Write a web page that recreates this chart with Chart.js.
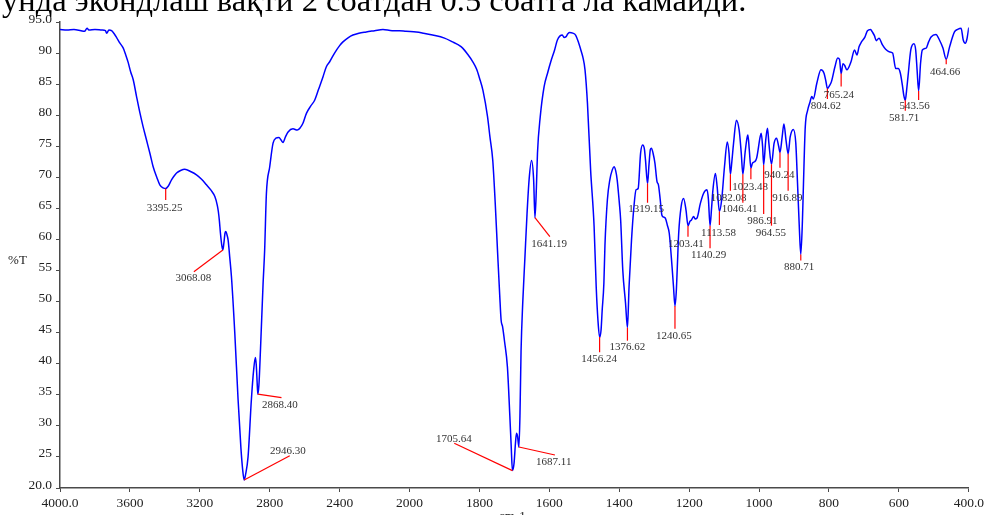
<!DOCTYPE html>
<html>
<head>
<meta charset="utf-8">
<script src="https://cdn.jsdelivr.net/npm/chart.js@4.4.1/dist/chart.umd.min.js"></script>
<style>
  html, body { margin: 0; padding: 0; background: #fff; overflow: hidden; }
</style>
</head>
<body>
<canvas id="ir-chart" width="987" height="515"></canvas>
<script>
// IR spectrum, %T against wavenumber

const headline = 'унда экондлаш вақти 2 соатдан 0.5 соатга ла камайди.';

// Spectrum, cm-1 and %T
const wavenumbers = [
  4000, 3960, 3920, 3880, 3860, 3845, 3835, 3800, 3760, 3740, 3733, 3720, 3705, 3690, 3676, 3657,
  3638, 3625, 3610, 3595, 3581, 3562, 3543, 3525, 3505, 3485, 3467, 3445, 3429, 3410, 3395.25, 3380,
  3362, 3345, 3333, 3310, 3286, 3250, 3219, 3190, 3162, 3135, 3114, 3100, 3094, 3088, 3082, 3074,
  3068.08, 3062, 3056, 3051, 3045, 3038, 3029, 3019, 3000, 2981, 2965, 2955, 2946.3, 2938, 2924, 2905,
  2892, 2882, 2877, 2872, 2868.4, 2862, 2853, 2838, 2829, 2819, 2800, 2781, 2765, 2747, 2735, 2724,
  2710, 2695, 2667, 2642, 2625, 2610, 2590, 2565, 2543, 2520, 2495, 2476, 2457, 2429, 2400, 2381,
  2350, 2324, 2290, 2248, 2200, 2152, 2100, 2057, 2020, 1981, 1960, 1934, 1900, 1877, 1860, 1848,
  1835, 1819, 1808, 1800, 1790, 1777, 1770, 1762, 1755, 1748, 1742, 1738, 1734, 1728, 1720, 1713,
  1709, 1705.64, 1701, 1697, 1694, 1691, 1687.11, 1684, 1681, 1676, 1670, 1664, 1658, 1651, 1645, 1641.19,
  1637, 1634, 1626, 1615, 1605, 1596, 1585, 1577, 1563, 1558, 1553, 1547, 1542, 1533, 1525, 1517,
  1510, 1504, 1498, 1491, 1482, 1472, 1466, 1461, 1456.24, 1452, 1449, 1444, 1441, 1434, 1427, 1420,
  1415, 1410, 1406, 1400, 1396, 1390, 1382, 1376.62, 1372, 1365, 1358, 1352, 1346, 1339, 1333, 1328,
  1325, 1319.15, 1315, 1311, 1308, 1303, 1298, 1292, 1288, 1283, 1278, 1273, 1268, 1262, 1257, 1249,
  1245, 1240.65, 1237, 1234, 1230, 1223, 1216, 1209, 1203.41, 1198, 1194, 1187, 1183, 1178, 1168, 1159,
  1149, 1145, 1140.29, 1136, 1132, 1125, 1120, 1113.58, 1107, 1099, 1091, 1086, 1082.08, 1078, 1073, 1065,
  1057, 1051, 1046.41, 1040, 1035, 1032, 1028, 1023.48, 1019, 1013, 1007, 997, 994, 990, 986.91, 981,
  976, 972, 964.55, 957, 950, 944, 940.24, 934, 929, 923, 916.89, 911, 902, 895, 890, 885,
  880.71, 876, 873, 868, 861, 855, 849, 845, 835, 823, 814, 809, 804.62, 798, 793, 783,
  775, 770, 765.24, 760, 755, 749, 737, 727, 720, 714, 707, 697, 690, 681, 676, 670,
  665, 657, 647, 638, 628, 618, 609, 602, 596, 590, 586, 581.71, 578, 574, 566, 557,
  552, 548, 543.56, 538, 533, 522, 515, 508, 494, 484, 474, 464.66, 455, 441, 432, 422,
  416, 410, 406, 400
];
const transmittance = [
  93.8, 93.7, 93.8, 93.6, 93.5, 94.0, 93.7, 93.8, 93.7, 93.6, 93.2, 93.7, 93.6, 93.1, 92.5, 91.6,
  90.8, 89.8, 88.5, 86.9, 85.7, 83.0, 80.4, 78.2, 76.0, 73.8, 71.7, 69.9, 68.8, 68.3, 68.2, 68.6,
  69.6, 70.3, 70.7, 71.1, 71.3, 70.9, 70.4, 69.7, 68.8, 67.9, 66.9, 65.5, 64.5, 63.0, 61.0, 59.0,
  58.3, 59.5, 61.0, 61.3, 60.8, 59.9, 57.2, 54.0, 45.0, 34.2, 26.5, 23.0, 21.3, 22.2, 25.0, 34.2,
  39.0, 41.0, 39.8, 37.0, 35.1, 36.5, 42.2, 52.9, 58.3, 67.4, 71.7, 75.5, 76.3, 76.4, 76.0, 75.6,
  76.5, 77.3, 77.8, 77.6, 78.0, 78.7, 80.3, 81.5, 82.4, 84.2, 86.2, 87.8, 88.6, 90.0, 91.2, 91.8,
  92.5, 92.9, 93.2, 93.4, 93.6, 93.8, 93.6, 93.6, 93.5, 93.4, 93.2, 92.9, 92.4, 91.8, 91.3, 90.8,
  89.9, 88.6, 87.4, 86.0, 84.0, 79.8, 76.5, 72.8, 66.0, 57.8, 51.0, 47.0, 46.0, 43.5, 39.5, 31.5,
  26.5, 22.8, 24.0, 27.2, 28.8, 28.3, 26.6, 32.0, 42.0, 50.0, 57.0, 64.0, 69.6, 72.7, 69.6, 63.5,
  68.5, 73.9, 79.8, 84.6, 86.8, 88.6, 90.5, 92.1, 92.9, 92.5, 92.6, 93.1, 93.3, 93.2, 92.9, 91.8,
  90.5, 89.3, 87.3, 81.9, 71.2, 62.1, 52.4, 47.0, 44.3, 45.5, 48.5, 53.0, 59.0, 66.4, 69.6, 71.2,
  71.7, 71.0, 69.6, 66.0, 63.1, 55.1, 49.7, 45.8, 52.4, 59.9, 65.3, 68.0, 68.2, 73.9, 75.2, 74.5,
  72.8, 69.0, 72.0, 74.5, 74.7, 73.8, 72.3, 69.3, 68.8, 66.5, 63.9, 63.6, 63.4, 62.2, 61.0, 55.6,
  52.5, 49.3, 51.5, 55.5, 61.0, 65.3, 66.6, 64.7, 62.2, 62.9, 63.1, 63.7, 63.3, 63.4, 65.8, 67.4,
  68.0, 66.5, 62.2, 65.0, 68.0, 70.6, 68.5, 64.5, 66.4, 71.7, 75.7, 73.9, 70.5, 72.5, 75.5, 79.2,
  77.6, 73.9, 70.5, 74.0, 76.2, 76.8, 74.4, 71.5, 72.3, 72.5, 73.1, 76.5, 77.1, 75.0, 72.0, 76.0,
  77.9, 75.5, 72.1, 75.5, 76.3, 75.0, 74.0, 76.5, 78.6, 76.0, 73.8, 76.5, 77.7, 75.5, 69.0, 62.1,
  57.6, 63.0, 69.0, 78.0, 80.8, 82.0, 83.0, 82.6, 85.1, 87.3, 86.7, 85.5, 84.3, 84.8, 85.4, 87.8,
  89.2, 89.0, 86.7, 88.3, 88.0, 87.3, 88.6, 90.5, 89.7, 91.0, 91.8, 92.6, 93.6, 93.8, 93.4, 92.8,
  92.0, 92.4, 91.3, 90.6, 90.2, 90.0, 87.5, 87.5, 86.8, 84.8, 83.2, 82.4, 84.0, 86.2, 90.5, 91.5,
  90.5, 87.3, 83.9, 88.4, 90.5, 90.8, 91.8, 92.6, 93.0, 92.1, 90.8, 89.0, 91.0, 93.4, 93.8, 94.0,
  92.1, 91.6, 92.1, 94.1
];

// Axis ticks
const xTickValues = [4000, 3600, 3200, 2800, 2400, 2000, 1800, 1600, 1400, 1200, 1000, 800, 600, 400];
const yMin = 20;
const yMax = 95;
const yStep = 5;

// Picked peaks: wavenumber and %T at the pick
const peakWavenumbers = [
  3395.25, 3068.08, 2868.40, 2946.30, 1641.19, 1705.64, 1687.11, 1456.24, 1376.62,
  1240.65, 1319.15, 1203.41, 1140.29, 1113.58, 1082.08, 1046.41, 1023.48, 986.91,
  964.55, 940.24, 916.89, 880.71, 804.62, 765.24, 581.71, 543.56, 464.66
];
const peakTransmittance = [
  68.2, 58.3, 35.1, 21.3, 63.5, 22.8, 26.6, 44.3, 45.8,
  49.3, 69.0, 62.2, 62.2, 64.5, 70.5, 70.5, 71.5, 72.0,
  72.1, 74.0, 73.8, 57.6, 84.3, 86.7, 82.4, 83.9, 89.0
];

// Layout of each pick: leader end (dx, dy) and label centre (lx, ly), px from the peak
const pickLayout = [
  [0, 11.5, -1, 19.5], [-29, 21.7, -29.6, 27.7], [23.7, 3.5, 22, 10.8], [45.6, -24.2, 43.6, -28.9],
  [14.9, 19, 14.2, 26.3], [-58.2, -27.3, -58.5, -31.6], [36, 8, 34.8, 14.7], [0, 15.3, -0.6, 22.3],
  [0, 13, 0, 19], [0, 22.8, -1, 29.8], [0, 19.2, -1.5, 25.5], [0, 11, -2, 18.2],
  [0, 22.5, -1.4, 29.2], [0, 13.5, -0.8, 21.2], [0, 16.5, -1.8, 23.5], [0, 28.5, -3.3, 34.8],
  [0, 11.3, -0.7, 19.3], [0, 49, -1.2, 55.8], [0, 61.4, -0.7, 68.7], [0, 15.2, -0.6, 22.8],
  [0, 37, -0.7, 44], [0, 6, -1.7, 12.4], [0, 10.5, -1.4, 17.5], [0, 13, -2.2, 21.4],
  [0, 10.4, -1.2, 18], [0, 9, -4, 15], [0, 5, -1, 13]
];

const axisColor = '#4a4a4a';
const serif = '"Liberation Serif", "Times New Roman", serif';

Chart.defaults.font.family = serif;
Chart.defaults.color = '#222';

// 4000-2000 cm-1 is drawn at half the scale of 2000-400 cm-1
function wavenumberToDecimal(wn) {
  if (wn >= 2000) return (4000 - wn) / 5200;
  return (2000 + 2 * (2000 - wn)) / 5200;
}

function decimalToWavenumber(d) {
  const u = d * 5200;
  if (u <= 2000) return 4000 - u;
  return 2000 - (u - 2000) / 2;
}

class WavenumberScale extends Chart.LinearScale {
  static id = 'wavenumber';

  getPixelForValue(value) {
    if (value === null || value === undefined) return NaN;
    return this.getPixelForDecimal(wavenumberToDecimal(value));
  }

  getValueForPixel(pixel) {
    return decimalToWavenumber(this.getDecimalForPixel(pixel));
  }
}
Chart.register(WavenumberScale);

// Red peak picks, their labels and the loose captions
const peakPicks = {
  id: 'peakPicks',
  afterDatasetsDraw(chart) {
    const { ctx, chartArea, scales: { x, y } } = chart;
    ctx.save();

    ctx.strokeStyle = '#ff0000';
    ctx.lineWidth = 1.2;
    ctx.fillStyle = '#333';
    ctx.font = '11px ' + serif;
    ctx.textAlign = 'center';
    ctx.textBaseline = 'middle';
    peakWavenumbers.forEach((wn, i) => {
      const px = x.getPixelForValue(wn);
      const py = y.getPixelForValue(peakTransmittance[i]);
      const [dx, dy, lx, ly] = pickLayout[i];
      ctx.beginPath();
      ctx.moveTo(px, py);
      ctx.lineTo(px + dx, py + dy);
      ctx.stroke();
      ctx.fillText(wn.toFixed(2), px + lx, py + ly);
    });

    // axis captions
    ctx.fillStyle = '#222';
    ctx.font = '13px ' + serif;
    ctx.fillText('%T', 17.5, chartArea.top + 239);
    ctx.textBaseline = 'top';
    ctx.fillText('cm-1', (chartArea.left + chartArea.right) / 2 - 2, chartArea.bottom + 22);

    // line of document text cut off above the figure
    ctx.fillStyle = '#000';
    ctx.font = '32.5px ' + serif;
    ctx.textAlign = 'left';
    ctx.textBaseline = 'alphabetic';
    ctx.fillText(headline, 2, 11);

    ctx.restore();
  }
};

const spectrumPoints = wavenumbers.map((wn, i) => ({ x: wn, y: transmittance[i] }));

new Chart(document.getElementById('ir-chart'), {
  type: 'line',
  data: {
    datasets: [{
      data: spectrumPoints,
      borderColor: '#0000ff',
      borderWidth: 1.5,
      pointRadius: 0,
      cubicInterpolationMode: 'monotone',
      fill: false
    }]
  },
  options: {
    responsive: false,
    animation: false,
    layout: { padding: { top: 22, right: 16, bottom: 0, left: 0 } },
    plugins: {
      legend: { display: false },
      tooltip: { enabled: false }
    },
    scales: {
      x: {
        type: 'wavenumber',
        min: 400,
        max: 4000,
        afterBuildTicks: scale => {
          scale.ticks = xTickValues.map(v => ({ value: v }));
        },
        afterFit: scale => {
          scale.height = 27;
        },
        grid: { drawOnChartArea: false, drawTicks: true, tickLength: 4, color: axisColor },
        border: { color: axisColor, width: 1.5 },
        ticks: {
          autoSkip: false,
          maxRotation: 0,
          padding: 3,
          font: { size: 13.5 },
          callback: v => (v === 4000 || v === 400) ? v.toFixed(1) : String(v)
        }
      },
      y: {
        min: yMin,
        max: yMax,
        afterFit: scale => {
          scale.width = 60;
        },
        grid: { drawOnChartArea: false, drawTicks: true, tickLength: 4, color: axisColor },
        border: { color: axisColor, width: 1.5 },
        ticks: {
          stepSize: yStep,
          padding: 4,
          labelOffset: -3,
          font: { size: 13.5 },
          callback: v => (v === yMax || v === yMin) ? v.toFixed(1) : String(v)
        }
      }
    }
  },
  plugins: [peakPicks]
});
</script>
</body>
</html>
